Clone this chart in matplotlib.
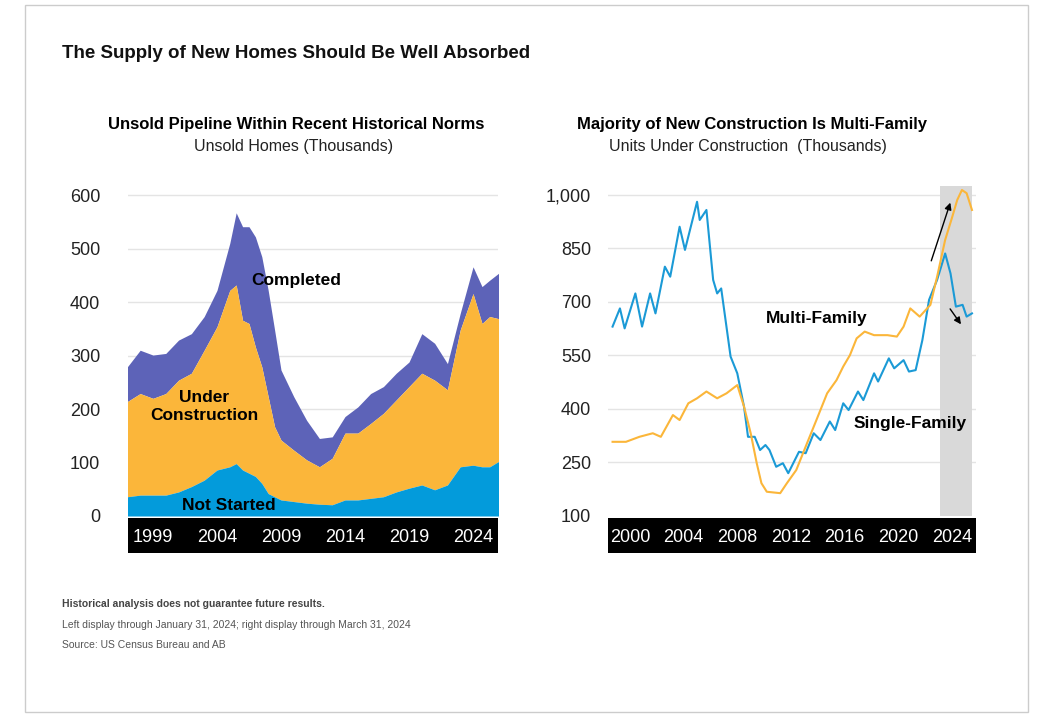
import matplotlib
matplotlib.use("Agg")
import matplotlib.pyplot as plt
from matplotlib.patches import Rectangle, FancyArrowPatch

plt.rcParams['font.family'] = ['Liberation Sans', 'DejaVu Sans']

# ---- Left chart data (thousands of unsold homes) ----
left_years = [1997.0, 1998, 1999, 2000, 2001, 2002, 2003, 2004, 2005, 2005.5, 2006, 2006.5,
              2007, 2007.5, 2008, 2008.5, 2009, 2010, 2011, 2012, 2013, 2014, 2015, 2016,
              2017, 2018, 2019, 2020, 2021, 2022, 2023, 2024, 2024.7, 2025.3, 2026]
total = [279, 310, 301, 304, 329, 341, 373, 422, 510, 567, 541, 541,
         522, 485, 422, 348, 273, 223, 179, 145, 148, 186, 204, 229,
         242, 267, 288, 341, 323, 285, 379, 466, 429, 441, 454]
started_plus_uc = [214, 229, 220, 229, 254, 267, 310, 354, 422, 432, 366, 360,
                   316, 279, 223, 167, 142, 123, 105, 92, 108, 155, 155, 173,
                   192, 217, 242, 267, 254, 236, 348, 416, 360, 373, 369]
not_started = [36, 39, 39, 39, 45, 55, 67, 86, 92, 98, 86, 80,
               74, 61, 42, 36, 30, 27, 24, 22, 21, 30, 30, 33,
               36, 45, 52, 58, 49, 58, 92, 95, 92, 92, 102]
left_ticks = [1999, 2004, 2009, 2014, 2019, 2024]
left_yticks = [0, 100, 200, 300, 400, 500, 600]

# ---- Right chart data (units under construction, thousands) ----
blue_x = [1998.7, 1999.25, 1999.6, 2000.4, 2000.9, 2001.5, 2001.9, 2002.6, 2003.0, 2003.7,
          2004.1, 2005.0, 2005.2, 2005.7, 2006.2, 2006.5, 2006.8, 2007.5, 2008.0, 2008.5,
          2008.8, 2009.3, 2009.7, 2010.1, 2010.4, 2010.9, 2011.4, 2011.8, 2012.6, 2013.1,
          2013.7, 2014.2, 2014.9, 2015.3, 2015.9, 2016.3, 2017.0, 2017.4, 2018.2, 2018.5,
          2019.3, 2019.7, 2020.4, 2020.8, 2021.3, 2021.8, 2022.3, 2022.9, 2023.5, 2023.9,
          2024.3, 2024.8, 2025.1, 2025.5]
blue_y = [631, 682, 626, 724, 631, 724, 668, 799, 771, 911,
          846, 981, 930, 958, 762, 724, 738, 547, 500, 407,
          322, 322, 285, 299, 285, 238, 248, 220, 280, 276,
          332, 313, 365, 341, 416, 397, 449, 425, 500, 477,
          542, 514, 537, 505, 509, 593, 706, 762, 836, 780,
          687, 692, 659, 668]
yellow_x = [1998.7, 1999.7, 2000.7, 2001.7, 2002.3, 2003.2, 2003.7, 2004.35, 2005.0, 2005.7,
            2006.5, 2007.2, 2008.0, 2008.5, 2009.0, 2009.45, 2009.8, 2010.2, 2011.2, 2011.7,
            2012.4, 2013.2, 2013.9, 2014.7, 2015.4, 2015.9, 2016.4, 2016.9, 2017.5, 2018.2,
            2019.2, 2019.9, 2020.4, 2020.9, 2021.6, 2022.4, 2022.9, 2023.5, 2024.0, 2024.4,
            2024.75, 2025.1, 2025.5]
yellow_y = [308, 308, 322, 332, 322, 383, 369, 416, 430, 449,
            430, 444, 467, 407, 332, 248, 192, 168, 164, 192,
            229, 304, 369, 444, 481, 519, 551, 598, 617, 607,
            607, 603, 631, 682, 659, 692, 771, 874, 935, 986,
            1014, 1005, 958]
right_ticks = [2000, 2004, 2008, 2012, 2016, 2020, 2024]
right_yticks = [100, 250, 400, 550, 700, 850, 1000]

W, H = 1053, 718
fig = plt.figure(figsize=(W / 100, H / 100), dpi=100)

def fx(px): return px / W
def fy(py): return 1 - py / H

# border
fig.patches.append(Rectangle((fx(25), fy(712)), fx(1003), (712 - 5) / H, transform=fig.transFigure,
                             fill=False, edgecolor='#cccccc', lw=1))
fig.text(fx(62), fy(54), "The Supply of New Homes Should Be Well Absorbed", fontsize=13.5,
         fontweight='bold', va='center', ha='left', color='#111111')

def make_axes(x0, x1, top, bottom):
    return fig.add_axes([fx(x0), fy(bottom), fx(x1 - x0), (bottom - top) / H])

tick_color = '#222222'

# ---------- Left ----------
axL = make_axes(128, 498, 185, 516)
axL.set_xlim(1997.05, 2025.95)
axL.set_ylim(0, 619)
for v in left_yticks[1:]:
    axL.axhline(v, color='#e4e4e4', lw=1, zorder=0)
axL.fill_between(left_years, started_plus_uc, total, color='#5d63b8', lw=0, zorder=2)
axL.fill_between(left_years, not_started, started_plus_uc, color='#fbb63a', lw=0, zorder=2)
axL.fill_between(left_years, 0, not_started, color='#039bdb', lw=0, zorder=2)
axL.set_xticks([])
axL.set_yticks(left_yticks)
axL.set_yticklabels([str(v) for v in left_yticks], fontsize=13, color=tick_color)
axL.tick_params(axis='y', length=0, pad=20)
for s in axL.spines.values():
    s.set_visible(False)
axL.text(2010.2, 440, "Completed", fontsize=12.5, fontweight='bold', ha='center', va='center')
axL.text(2003.0, 205, "Under\nConstruction", fontsize=12.5, fontweight='bold', ha='center',
         va='center', linespacing=1.25)
axL.text(2004.9, 20, "Not Started", fontsize=12.5, fontweight='bold', ha='center', va='center')

bandL = make_axes(128, 498, 518, 553)
bandL.set_facecolor('black')
bandL.set_xlim(1997.05, 2025.95)
bandL.set_ylim(0, 1)
bandL.set_yticks([])
bandL.set_xticks([])
for t in left_ticks:
    bandL.text(t, 0.45, str(t), color='white', fontsize=13, ha='center', va='center')
for s in bandL.spines.values():
    s.set_visible(False)

fig.text(fx(296), fy(124), "Unsold Pipeline Within Recent Historical Norms", fontsize=12,
         fontweight='bold', ha='center', va='center')
fig.text(fx(294), fy(147), "Unsold Homes (Thousands)", fontsize=11.5, ha='center', va='center',
         color='#222222')

# ---------- Right ----------
axR = make_axes(608, 976, 185, 516)
axR.set_xlim(1998.36, 2025.8)
axR.set_ylim(100, 1028)
for v in right_yticks[1:]:
    axR.axhline(v, color='#e4e4e4', lw=1, zorder=0)
axR.axvspan(2023.1, 2025.5, ymin=0, ymax=(1025 - 100) / 928, color='#d9d9d9', lw=0, zorder=1)
axR.plot(blue_x, blue_y, color='#1b9ad6', lw=1.5, zorder=3)
axR.plot(yellow_x, yellow_y, color='#fbb63a', lw=1.5, zorder=3)
axR.add_patch(FancyArrowPatch((2022.4, 808), (2023.95, 986), arrowstyle='-|>', mutation_scale=10,
                              color='black', lw=1, zorder=4))
axR.add_patch(FancyArrowPatch((2023.75, 687), (2024.8, 631), arrowstyle='-|>', mutation_scale=10,
                              color='black', lw=1, zorder=4))
axR.text(2013.9, 655, "Multi-Family", fontsize=12.5, fontweight='bold', ha='center', va='center')
axR.text(2020.9, 360, "Single-Family", fontsize=12.5, fontweight='bold', ha='center', va='center')
axR.set_xticks([])
axR.set_yticks(right_yticks)
axR.set_yticklabels([f"{v:,}" for v in right_yticks], fontsize=13, color=tick_color)
axR.tick_params(axis='y', length=0, pad=12)
for s in axR.spines.values():
    s.set_visible(False)

bandR = make_axes(608, 976, 518, 553)
bandR.set_facecolor('black')
bandR.set_xlim(1998.36, 2025.8)
bandR.set_ylim(0, 1)
bandR.set_yticks([])
bandR.set_xticks([])
for t in right_ticks:
    bandR.text(t, 0.45, str(t), color='white', fontsize=13, ha='center', va='center')
for s in bandR.spines.values():
    s.set_visible(False)

fig.text(fx(752), fy(124), "Majority of New Construction Is Multi-Family", fontsize=12,
         fontweight='bold', ha='center', va='center')
fig.text(fx(748), fy(147), "Units Under Construction  (Thousands)", fontsize=11.5, ha='center',
         va='center', color='#222222')

# ---------- Footnotes ----------
fig.text(fx(62), fy(604), "Historical analysis does not guarantee future results.", fontsize=7.5,
         fontweight='bold', color='#444444', va='center')
fig.text(fx(62), fy(625), "Left display through January 31, 2024; right display through March 31, 2024",
         fontsize=7.5, color='#555555', va='center')
fig.text(fx(62), fy(645), "Source: US Census Bureau and AB", fontsize=7.5, color='#555555', va='center')

fig.savefig("out.png", dpi=100)
